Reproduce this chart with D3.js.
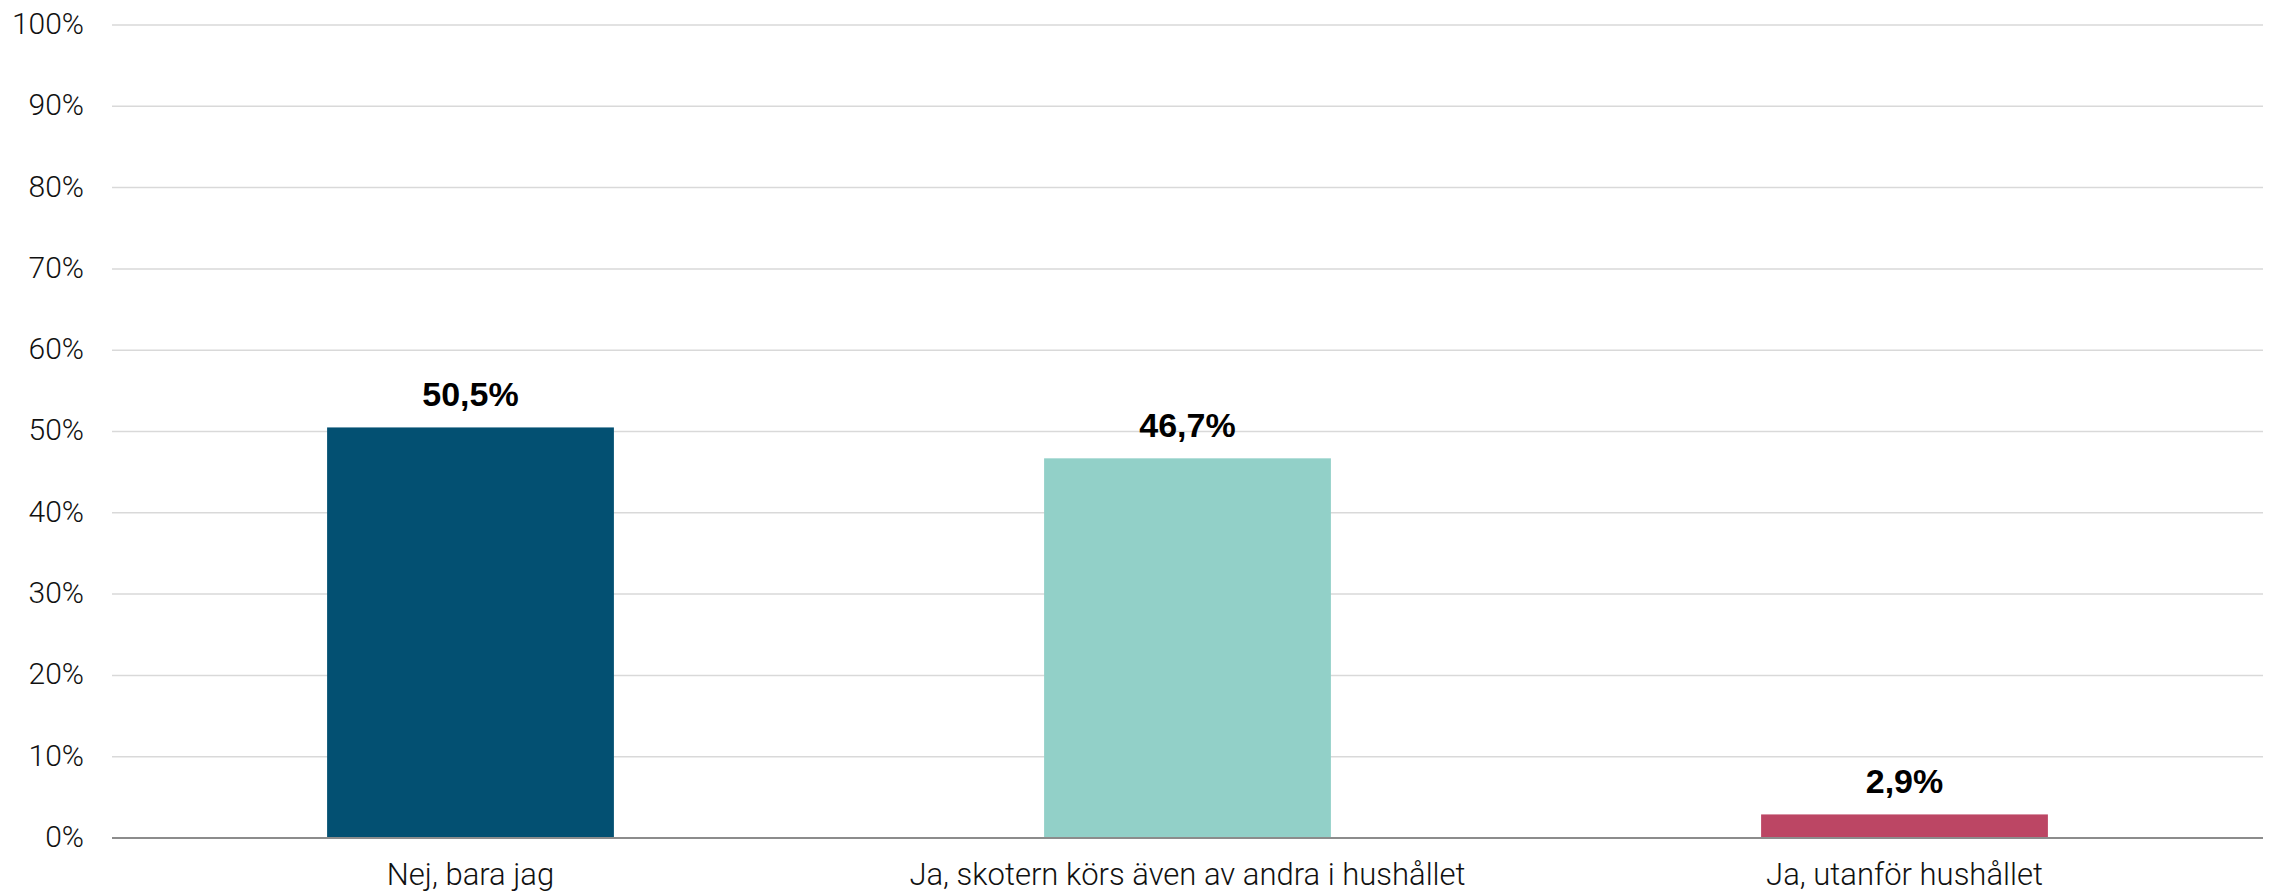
<!DOCTYPE html>
<html>
<head>
<meta charset="utf-8">
<script src="https://cdn.jsdelivr.net/npm/d3@7"></script>
<style>
  html, body { margin: 0; padding: 0; background: #fff; }
  svg { display: block; }
</style>
</head>
<body>
<svg id="chart" width="2277" height="893"></svg>
<script>
const categories = ["Nej, bara jag", "Ja, skotern körs även av andra i hushållet", "Ja, utanför hushållet"];
const values = [50.5, 46.7, 2.9];
const valueLabels = ["50,5%", "46,7%", "2,9%"];
const barColors = ["#035072", "#92D0C8", "#BC4664"];
const yTicks = [0, 10, 20, 30, 40, 50, 60, 70, 80, 90, 100];

const W = 2277, H = 893;
const margin = { left: 112, right: 14, top: 25, bottom: 55 };
const svg = d3.select("#chart");

const x = d3.scaleBand().domain(categories).range([margin.left, W - margin.right]).paddingInner(0.6).paddingOuter(0.3);
const y = d3.scaleLinear().domain([0, 100]).range([H - margin.bottom, margin.top]);

// gridlines
svg.append("g")
  .selectAll("line")
  .data(yTicks.filter(d => d > 0))
  .join("line")
  .attr("x1", margin.left).attr("x2", W - margin.right)
  .attr("y1", d => y(d)).attr("y2", d => y(d))
  .attr("stroke", "#d9d9d9").attr("stroke-width", 1.5);

// y axis labels
const yAxis = d3.axisLeft(y).tickValues(yTicks).tickFormat(d => d + "%").tickSize(0).tickPadding(28);
const ya = svg.append("g").attr("transform", `translate(${margin.left},0)`).call(yAxis);
ya.select(".domain").remove();
ya.selectAll("text")
  .attr("font-family", "Roboto, sans-serif").attr("font-weight", 300)
  .attr("font-size", 30).attr("fill", "#111").attr("dy", "0.28em");

// bars
svg.append("g")
  .selectAll("rect")
  .data(categories)
  .join("rect")
  .attr("x", d => x(d))
  .attr("width", x.bandwidth())
  .attr("y", (d, i) => y(values[i]))
  .attr("height", (d, i) => y(0) - y(values[i]))
  .attr("fill", (d, i) => barColors[i]);

// baseline axis
const xAxis = d3.axisBottom(x).tickSize(0).tickPadding(25);
const xa = svg.append("g").attr("transform", `translate(0,${y(0)})`).call(xAxis);
xa.select(".domain").attr("stroke", "#8c8c8c").attr("stroke-width", 2)
  .attr("d", `M${margin.left},0H${W - margin.right}`);
xa.selectAll("text")
  .attr("font-family", "Roboto, sans-serif").attr("font-weight", 300)
  .attr("font-size", 31).attr("letter-spacing", 0).attr("fill", "#111").attr("dy", "0.71em");

// value labels
svg.append("g")
  .selectAll("text")
  .data(categories)
  .join("text")
  .attr("x", d => x(d) + x.bandwidth() / 2)
  .attr("y", (d, i) => y(values[i]) - 21)
  .attr("text-anchor", "middle")
  .attr("font-family", "'Liberation Sans', Arial, sans-serif")
  .attr("font-weight", 700).attr("font-size", 34).attr("fill", "#000")
  .text((d, i) => valueLabels[i]);
</script>
</body>
</html>
